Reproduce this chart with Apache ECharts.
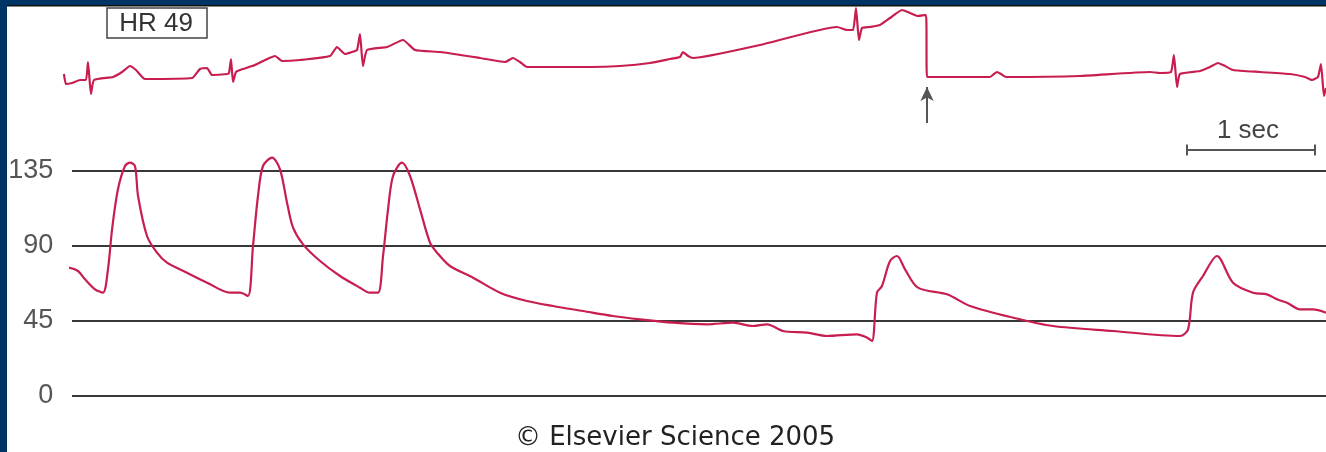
<!DOCTYPE html>
<html>
<head>
<meta charset="utf-8">
<title>HR 49</title>
<script src="https://cdn.jsdelivr.net/npm/echarts@6.0.0/dist/echarts.min.js"></script>
<style>
    html, body {margin: 0; padding: 0; background: #ffffff;}
    #chartmain {width: 1326px; height: 452px;}
</style>
</head>
<body>
<div id="chartmain"></div>
<script>
// 时间单位: 秒; ECG 幅度: 任意单位 (基线 = 0); 血压: mmHg
var ecgPoints = [
    [-0.063, 3], [-0.047, -7], [0, -6], [0.063, -3], [0.109, -3], [0.125, 15], [0.148, -17], [0.172, -3],
    [0.320, 0], [0.391, 5], [0.453, 11], [0.5, 7], [0.570, -2], [0.938, -1], [1.0, 8], [1.055, 9],
    [1.094, 2], [1.211, 3], [1.227, 4], [1.242, 18], [1.258, -5], [1.281, 5], [1.313, 7], [1.430, 12],
    [1.508, 17], [1.586, 21], [1.641, 16], [1.781, 17], [2.016, 21], [2.070, 30], [2.133, 23], [2.188, 25],
    [2.227, 27], [2.25, 43], [2.273, 11], [2.305, 27], [2.461, 30], [2.586, 37], [2.680, 27], [2.875, 25],
    [3.188, 19], [3.383, 15], [3.445, 19], [3.5, 15], [3.555, 10], [4.047, 10], [4.281, 11], [4.516, 14],
    [4.672, 18], [4.75, 20], [4.773, 25], [4.813, 21], [4.852, 19], [5.375, 32], [5.977, 50], [6.055, 47],
    [6.102, 47], [6.125, 69], [6.148, 37], [6.172, 49], [6.234, 50], [6.313, 52], [6.391, 59], [6.484, 67],
    [6.547, 64], [6.609, 61], [6.672, 62], [6.680, 0], [7.172, 0], [7.203, 3], [7.227, 5], [7.258, 3],
    [7.297, 0], [7.875, 1], [8.422, 5], [8.5, 4], [8.586, 5], [8.609, 22], [8.633, -10], [8.656, 3],
    [8.813, 6], [8.891, 10], [8.953, 14], [9.008, 11], [9.070, 7], [9.281, 5], [9.516, 3], [9.633, 0],
    [9.688, -3], [9.734, 0], [9.758, 13], [9.781, -19], [9.797, -11]
];

var pressurePoints = [
    [-0.023, 77], [0.047, 75], [0.102, 70], [0.180, 64], [0.242, 62], [0.281, 76], [0.313, 100], [0.359, 124],
    [0.414, 138], [0.453, 140], [0.492, 138], [0.516, 120], [0.586, 96], [0.664, 86], [0.742, 80], [0.898, 74],
    [1.055, 68], [1.234, 62], [1.313, 62], [1.375, 60], [1.414, 90], [1.453, 120], [1.492, 138], [1.563, 143],
    [1.625, 136], [1.680, 116], [1.727, 101], [1.805, 91], [1.938, 81], [2.094, 72], [2.25, 65], [2.328, 62],
    [2.391, 62], [2.430, 84], [2.469, 112], [2.508, 132], [2.578, 140], [2.641, 132], [2.719, 112], [2.797, 92],
    [2.852, 86], [2.953, 78], [3.133, 71], [3.344, 62], [3.555, 57], [3.758, 54], [3.992, 51], [4.227, 48],
    [4.438, 46], [4.695, 44], [4.961, 43], [5.164, 44], [5.320, 42], [5.430, 43], [5.555, 39], [5.742, 38],
    [5.898, 36], [6.133, 37], [6.211, 35], [6.25, 33], [6.289, 62], [6.328, 66], [6.391, 81], [6.445, 84],
    [6.508, 76], [6.609, 65], [6.836, 61], [7.016, 54], [7.352, 47], [7.664, 42], [8.133, 39], [8.656, 36],
    [8.719, 40], [8.758, 62], [8.836, 72], [8.945, 84], [9.070, 68], [9.227, 62], [9.336, 61], [9.414, 58],
    [9.492, 56], [9.594, 52], [9.695, 52], [9.797, 50]
];

var pressureTicks = [0, 45, 90, 135];
var timeRange = [-0.1, 9.797];
var gridStart = 0;             // 水平参考线从 0 秒开始
var arrowTime = 6.68;          // 箭头位置 (秒)
var scaleBar = [8.711, 9.711]; // 1 sec 标尺

var traceColor = '#c81e4f';
var navy = '#003366';

var myChart = echarts.init(document.getElementById('chartmain'));

// 血压参考线 (0 / 45 / 90 / 135)
var refLines = pressureTicks.map(function (v) {
    return [{coord: [gridStart, v]}, {coord: [timeRange[1], v]}];
});

var option = {
    backgroundColor: '#ffffff',
    animation: false,
    grid: [
        {left: 59.2, right: 0, top: 0, height: 157},
        {left: 59.2, right: 0, top: 171, bottom: 56}
    ],
    xAxis: [
        {gridIndex: 0, type: 'value', min: timeRange[0], max: timeRange[1], show: false},
        {gridIndex: 1, type: 'value', min: timeRange[0], max: timeRange[1], show: false}
    ],
    yAxis: [
        {gridIndex: 0, type: 'value', min: -80, max: 77, show: false},
        {
            gridIndex: 1,
            type: 'value',
            min: pressureTicks[0],
            max: pressureTicks[pressureTicks.length - 1],
            interval: pressureTicks[1] - pressureTicks[0],
            axisLine: {show: false},
            axisTick: {show: false},
            axisLabel: {
                margin: 6,
                color: '#555',
                fontFamily: 'Liberation Sans',
                fontSize: 27
            },
            splitLine: {show: false}
        }
    ],
    series: [
        {
            name: 'ECG',
            type: 'line',
            xAxisIndex: 0,
            yAxisIndex: 0,
            data: ecgPoints,
            showSymbol: false,
            smooth: 0.15,
            clip: false,
            lineStyle: {color: traceColor, width: 2.2},
            markLine: {
                silent: true,
                symbol: ['none', 'arrow'],
                symbolSize: [10, 14],
                label: {show: false},
                lineStyle: {color: '#555', width: 2, type: 'solid'},
                data: [
                    [{coord: [arrowTime, -46]}, {coord: [arrowTime, -10]}]
                ]
            }
        },
        {
            name: '1 sec',
            type: 'line',
            xAxisIndex: 0,
            yAxisIndex: 0,
            data: [[scaleBar[0], -73], [scaleBar[1], -73]],
            symbol: 'rect',
            symbolSize: [2, 11],
            itemStyle: {color: '#555'},
            lineStyle: {color: '#555', width: 2}
        },
        {
            name: 'Pressure',
            type: 'line',
            xAxisIndex: 1,
            yAxisIndex: 1,
            data: pressurePoints,
            showSymbol: false,
            smooth: 0.3,
            clip: false,
            z: 3,
            lineStyle: {color: traceColor, width: 2.2},
            markLine: {
                silent: true,
                symbol: ['none', 'none'],
                label: {show: false},
                lineStyle: {color: '#383838', width: 2, type: 'solid'},
                z: 1,
                data: refLines
            }
        }
    ],
    graphic: [
        // 边框
        {type: 'rect', shape: {x: 0, y: 0, width: 1326, height: 5}, style: {fill: navy}, z: 100},
        {type: 'rect', shape: {x: 0, y: 5, width: 1326, height: 1.5}, style: {fill: '#111'}, z: 100},
        {type: 'rect', shape: {x: 0, y: 0, width: 7, height: 452}, style: {fill: navy}, z: 100},
        // HR 框
        {type: 'rect', shape: {x: 107, y: 8, width: 100, height: 30}, style: {fill: 'none', stroke: '#444', lineWidth: 1.5}, z: 50},
        {
            type: 'text', x: 156, y: 24, z: 50,
            style: {text: 'HR 49', fill: '#333', font: '26px "Liberation Sans"', align: 'center', verticalAlign: 'middle'}
        },
        {
            type: 'text', x: 1248, y: 131, z: 50,
            style: {text: '1 sec', fill: '#444', font: '26px "Liberation Sans"', align: 'center', verticalAlign: 'middle'}
        },
        {
            type: 'text', x: 675, y: 438, z: 50,
            style: {text: '© Elsevier Science 2005', fill: '#222', font: '26px "DejaVu Sans"', align: 'center', verticalAlign: 'middle'}
        }
    ]
};

//使用制定的配置项和数据显示图表
myChart.setOption(option);
</script>
</body>
</html>
